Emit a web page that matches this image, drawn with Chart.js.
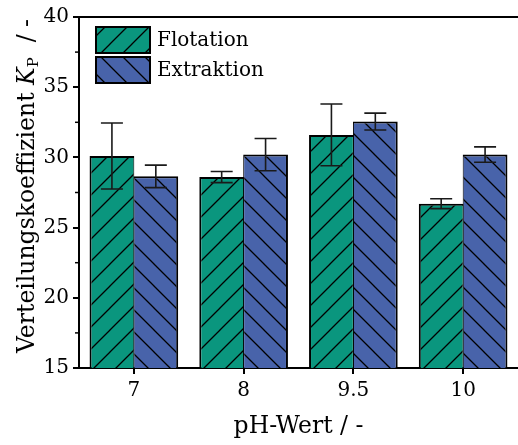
<!DOCTYPE html>
<html>
<head>
<meta charset="utf-8">
<script src="https://cdn.jsdelivr.net/npm/chart.js@4"></script>
<style>
html, body { margin: 0; padding: 0; background: #fff; }
#wrap { width: 518px; height: 445px; }
</style>
</head>
<body>
<div id="wrap"><canvas id="myChart"></canvas></div>
<script>
var categories = ['7', '8', '9.5', '10'];
var flotation = [30.1, 28.6, 31.6, 26.7];
var flotationErr = [2.35, 0.4, 2.2, 0.35];
var extraktion = [28.65, 30.2, 32.55, 30.2];
var extraktionErr = [0.8, 1.15, 0.6, 0.55];
var yMin = 15, yMax = 40, yStep = 5;

var FONT = 'DejaVu Serif';
var ctx = document.getElementById('myChart').getContext('2d');

// hatch pattern: dir 1 = "/", dir -1 = "\"
function hatch(color, dir) {
    var s = 22;
    var c = document.createElement('canvas');
    c.width = s; c.height = s;
    var g = c.getContext('2d');
    g.fillStyle = color;
    g.fillRect(0, 0, s, s);
    g.strokeStyle = '#000';
    g.lineWidth = 1.3;
    g.beginPath();
    if (dir > 0) {
        g.moveTo(-3, s + 3); g.lineTo(s + 3, -3);
        g.moveTo(-3, 3); g.lineTo(3, -3);
        g.moveTo(s - 3, s + 3); g.lineTo(s + 3, s - 3);
    } else {
        g.moveTo(-3, -3); g.lineTo(s + 3, s + 3);
        g.moveTo(s - 3, -3); g.lineTo(s + 3, 3);
        g.moveTo(-3, s - 3); g.lineTo(3, s + 3);
    }
    g.stroke();
    return ctx.createPattern(c, 'repeat');
}

var greenFill = hatch('#0a967e', 1);
var blueFill = hatch('#4863aa', -1);

var errors = [flotationErr, extraktionErr];

// error bars, frame line, minor ticks, legend, y title
var extras = {
    id: 'extras',
    afterDatasetsDraw: function(chart) {
        var c = chart.ctx;
        var ys = chart.scales.y;
        c.save();
        c.strokeStyle = '#1a1a1a';
        c.lineWidth = 1.6;
        chart.data.datasets.forEach(function(ds, i) {
            var meta = chart.getDatasetMeta(i);
            meta.data.forEach(function(bar, j) {
                var v = ds.data[j], e = errors[i][j];
                var top = ys.getPixelForValue(v + e);
                var bot = ys.getPixelForValue(v - e);
                c.beginPath();
                c.moveTo(bar.x, top); c.lineTo(bar.x, bot);
                c.moveTo(bar.x - 11, top); c.lineTo(bar.x + 11, top);
                c.moveTo(bar.x - 11, bot); c.lineTo(bar.x + 11, bot);
                c.stroke();
            });
        });
        c.restore();
    },
    afterDraw: function(chart) {
        var c = chart.ctx;
        var a = chart.chartArea;
        var ys = chart.scales.y;
        c.save();
        c.strokeStyle = '#000';
        c.lineWidth = 2;
        c.beginPath();
        c.moveTo(a.left - 1, a.top);
        c.lineTo(a.right + 2, a.top);
        c.stroke();

        // minor ticks
        c.lineWidth = 1.5;
        for (var v = yMin + yStep / 2; v < yMax; v += yStep) {
            var py = ys.getPixelForValue(v);
            c.beginPath();
            c.moveTo(a.left - 4, py);
            c.lineTo(a.left, py);
            c.stroke();
        }

        // legend inside plot
        var items = [['Flotation', greenFill], ['Extraktion', blueFill]];
        items.forEach(function(it, k) {
            var bx = 96, by = 27 + k * 30;
            c.fillStyle = it[1];
            c.fillRect(bx, by, 54, 26);
            c.lineWidth = 2;
            c.strokeStyle = '#000';
            c.strokeRect(bx, by, 54, 26);
            c.fillStyle = '#000';
            c.font = '20px "' + FONT + '"';
            c.textBaseline = 'middle';
            c.textAlign = 'left';
            c.fillText(it[0], 157, by + 14);
        });

        // y axis title with italic K and subscript P
        c.translate(26, 186);
        c.rotate(-Math.PI / 2);
        c.fillStyle = '#000';
        c.textBaseline = 'alphabetic';
        var parts = [
            ['Verteilungskoeffizient ', '23.5px "' + FONT + '"', 0],
            ['K', 'italic 23.5px "' + FONT + '"', 0],
            ['P', '15px "' + FONT + '"', 4],
            ['  / -', '23.5px "' + FONT + '"', 0]
        ];
        var total = 0;
        parts.forEach(function(p) { c.font = p[1]; total += c.measureText(p[0]).width; });
        var x = -total / 2;
        parts.forEach(function(p) {
            c.font = p[1];
            c.fillText(p[0], x, 8 + p[2]);
            x += c.measureText(p[0]).width;
        });
        c.restore();
    }
};

var chart = new Chart(ctx, {
    type: 'bar',
    data: {
        labels: categories,
        datasets: [{
            label: 'Flotation',
            data: flotation,
            backgroundColor: greenFill,
            borderColor: '#000',
            borderWidth: { left: 2, top: 2, bottom: 2, right: 1 },
            borderSkipped: false
        }, {
            label: 'Extraktion',
            data: extraktion,
            backgroundColor: blueFill,
            borderColor: '#000',
            borderWidth: { left: 1, top: 2, bottom: 2, right: 2 },
            borderSkipped: false
        }]
    },
    options: {
        responsive: true,
        maintainAspectRatio: false,
        animation: false,
        layout: { padding: { top: 17, right: 0, left: 0, bottom: 0 } },
        datasets: { bar: { categoryPercentage: 0.8, barPercentage: 1.02 } },
        plugins: {
            legend: { display: false },
            tooltip: { enabled: false }
        },
        scales: {
            x: {
                grid: { display: true, drawOnChartArea: false, offset: false, tickLength: 6, color: '#000', lineWidth: 2 },
                border: { color: '#000', width: 2 },
                ticks: { color: '#000', font: { family: FONT, size: 20 }, padding: 5 },
                title: { display: true, text: 'pH-Wert / -', color: '#000', font: { family: FONT, size: 23.5 }, padding: { top: 5 } },
                afterFit: function(scale) { scale.height = 77; }
            },
            y: {
                min: yMin,
                max: yMax,
                ticks: { stepSize: yStep, color: '#000', font: { family: FONT, size: 20 }, padding: 4 },
                grid: { display: true, drawOnChartArea: false, tickLength: 6, color: '#000', lineWidth: 2 },
                border: { color: '#000', width: 2 },
                afterFit: function(scale) { scale.width = 79; }
            }
        }
    },
    plugins: [extras]
});
</script>
</body>
</html>
